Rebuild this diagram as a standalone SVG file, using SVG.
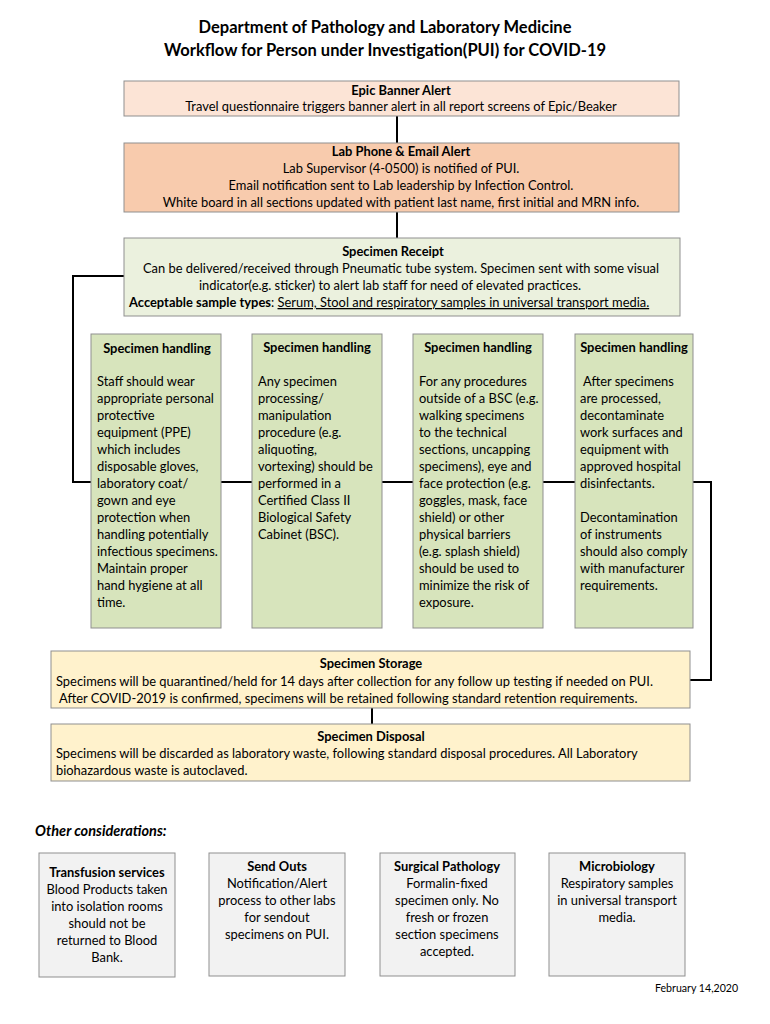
<svg xmlns="http://www.w3.org/2000/svg" width="770" height="1024" viewBox="0 0 770 1024">
<style>
text{font-family:Lato,"Open Sans","Liberation Sans",sans-serif;font-size:12.9px;fill:#000}
.t{font-size:16.5px;font-weight:bold;text-anchor:middle}
.b{font-weight:bold}
.c{text-anchor:middle}
.box{stroke:#8f8f8f;stroke-width:1}
.peach1{fill:#fce4d6}
.peach2{fill:#f8cbad}
.green1{fill:#ebf1de}
.green2{fill:#d7e4bc}
.yellow{fill:#fff2cc}
.gray{fill:#f2f2f2}
.conn{stroke:#000;stroke-width:2;fill:none}
</style>
<rect width="770" height="1024" fill="#fff"/>
<g id="title">
<text class="t" x="385" y="33">Department of Pathology and Laboratory Medicine</text>
<text class="t" x="385" y="56">Workflow for Person under Investigation(PUI) for COVID-19</text>
</g>
<g id="connectors">
<path class="conn" d="M397 116V143"/>
<path class="conn" d="M397 212V238"/>
<path class="conn" d="M124 276H73V482H91"/>
<path class="conn" d="M221 482H252"/>
<path class="conn" d="M382 482H413"/>
<path class="conn" d="M543 482H575"/>
<path class="conn" d="M693 482H711V680H690"/>
<path class="conn" d="M372 708V724"/>
</g>
<g id="epic-banner">
<rect class="box peach1" x="124" y="81" width="555" height="35"/>
<text class="b c" x="401" y="95">Epic Banner Alert</text>
<text class="c" x="401" y="111">Travel questionnaire triggers banner alert in all report screens of Epic/Beaker</text>
</g>
<g id="lab-phone">
<rect class="box peach2" x="124" y="143" width="555" height="69"/>
<text class="b c" x="401" y="156">Lab Phone &amp; Email Alert</text>
<text class="c" x="401" y="173">Lab Supervisor (4-0500) is notified of PUI.</text>
<text class="c" x="401" y="190">Email notification sent to Lab leadership by Infection Control.</text>
<text class="c" x="401" y="207">White board in all sections updated with patient last name, first initial and MRN info.</text>
</g>
<g id="specimen-receipt">
<rect class="box green1" x="124" y="238" width="556" height="78"/>
<text class="b c" x="393" y="256">Specimen Receipt</text>
<text class="c" x="401" y="273">Can be delivered/received through Pneumatic tube system. Specimen sent with some visual</text>
<text class="c" x="390" y="290">indicator(e.g. sticker) to alert lab staff for need of elevated practices.</text>
<text x="129" y="307"><tspan class="b">Acceptable sample types</tspan>: <tspan text-decoration="underline">Serum, Stool and respiratory samples in universal transport media.</tspan></text>
</g>
<g id="handling-1">
<rect class="box green2" x="91" y="334" width="130" height="294"/>
<text class="b c" x="157" y="353">Specimen handling</text>
<text x="97" y="386">Staff should wear</text>
<text x="97" y="403">appropriate personal</text>
<text x="97" y="420">protective</text>
<text x="97" y="437">equipment (PPE)</text>
<text x="97" y="454">which includes</text>
<text x="97" y="471">disposable gloves,</text>
<text x="97" y="488">laboratory coat/</text>
<text x="97" y="505">gown and eye</text>
<text x="97" y="522">protection when</text>
<text x="97" y="539">handling potentially</text>
<text x="97" y="556">infectious specimens.</text>
<text x="97" y="573">Maintain proper</text>
<text x="97" y="590">hand hygiene at all</text>
<text x="97" y="607">time.</text>
</g>
<g id="handling-2">
<rect class="box green2" x="252" y="334" width="130" height="294"/>
<text class="b c" x="317" y="352">Specimen handling</text>
<text x="258" y="386">Any specimen</text>
<text x="258" y="403">processing/</text>
<text x="258" y="420">manipulation</text>
<text x="258" y="437">procedure (e.g.</text>
<text x="258" y="454">aliquoting,</text>
<text x="258" y="471">vortexing) should be</text>
<text x="258" y="488">performed in a</text>
<text x="258" y="505">Certified Class II</text>
<text x="258" y="522">Biological Safety</text>
<text x="258" y="539">Cabinet (BSC).</text>
</g>
<g id="handling-3">
<rect class="box green2" x="413" y="334" width="130" height="294"/>
<text class="b c" x="478" y="352">Specimen handling</text>
<text x="419" y="386">For any procedures</text>
<text x="419" y="403">outside of a BSC (e.g.</text>
<text x="419" y="420">walking specimens</text>
<text x="419" y="437">to the technical</text>
<text x="419" y="454">sections, uncapping</text>
<text x="419" y="471">specimens), eye and</text>
<text x="419" y="488">face protection (e.g.</text>
<text x="419" y="505">goggles, mask, face</text>
<text x="419" y="522">shield) or other</text>
<text x="419" y="539">physical barriers</text>
<text x="419" y="556">(e.g. splash shield)</text>
<text x="419" y="573">should be used to</text>
<text x="419" y="590">minimize the risk of</text>
<text x="419" y="607">exposure.</text>
</g>
<g id="handling-4">
<rect class="box green2" x="575" y="334" width="118" height="294"/>
<text class="b c" x="634" y="352">Specimen handling</text>
<text x="583" y="386">After specimens</text>
<text x="580" y="403">are processed,</text>
<text x="580" y="420">decontaminate</text>
<text x="580" y="437">work surfaces and</text>
<text x="580" y="454">equipment with</text>
<text x="580" y="471">approved hospital</text>
<text x="580" y="488">disinfectants.</text>
<text x="580" y="522">Decontamination</text>
<text x="580" y="539">of instruments</text>
<text x="580" y="556">should also comply</text>
<text x="580" y="573">with manufacturer</text>
<text x="580" y="590">requirements.</text>
</g>
<g id="specimen-storage">
<rect class="box yellow" x="51" y="651" width="639" height="57"/>
<text class="b c" x="371" y="668">Specimen Storage</text>
<text x="56" y="686">Specimens will be quarantined/held for 14 days after collection for any follow up testing if needed on PUI.</text>
<text x="59" y="703">After COVID-2019 is confirmed, specimens will be retained following standard retention requirements.</text>
</g>
<g id="specimen-disposal">
<rect class="box yellow" x="51" y="724" width="639" height="57"/>
<text class="b c" x="371" y="741">Specimen Disposal</text>
<text x="56" y="758">Specimens will be discarded as laboratory waste, following standard disposal procedures. All Laboratory</text>
<text x="56" y="775">biohazardous waste is autoclaved.</text>
</g>
<g id="other-considerations">
<text x="35" y="836" style="font-weight:bold;font-style:italic;font-size:14.5px">Other considerations:</text>
</g>
<g id="transfusion">
<rect class="box gray" x="39" y="853" width="136" height="124"/>
<text class="b c" x="107" y="877">Transfusion services</text>
<text class="c" x="107" y="894">Blood Products taken</text>
<text class="c" x="107" y="911">into isolation rooms</text>
<text class="c" x="107" y="928">should not be</text>
<text class="c" x="107" y="945">returned to Blood</text>
<text class="c" x="107" y="962">Bank.</text>
</g>
<g id="send-outs">
<rect class="box gray" x="209" y="853" width="136" height="123"/>
<text class="b c" x="277" y="871">Send Outs</text>
<text class="c" x="277" y="888">Notification/Alert</text>
<text class="c" x="277" y="905">process to other labs</text>
<text class="c" x="277" y="922">for sendout</text>
<text class="c" x="277" y="939">specimens on PUI.</text>
</g>
<g id="surgical-pathology">
<rect class="box gray" x="380" y="853" width="135" height="123"/>
<text class="b c" x="447" y="871">Surgical Pathology</text>
<text class="c" x="447" y="888">Formalin-fixed</text>
<text class="c" x="447" y="905">specimen only.  No</text>
<text class="c" x="447" y="922">fresh or frozen</text>
<text class="c" x="447" y="939">section specimens</text>
<text class="c" x="447" y="956">accepted.</text>
</g>
<g id="microbiology">
<rect class="box gray" x="549" y="853" width="136" height="123"/>
<text class="b c" x="617" y="871">Microbiology</text>
<text class="c" x="617" y="888">Respiratory samples</text>
<text class="c" x="617" y="905">in universal transport</text>
<text class="c" x="617" y="922">media.</text>
</g>
<g id="date">
<text x="655" y="992" style="font-size:10.6px">February 14,2020</text>
</g>
</svg>
